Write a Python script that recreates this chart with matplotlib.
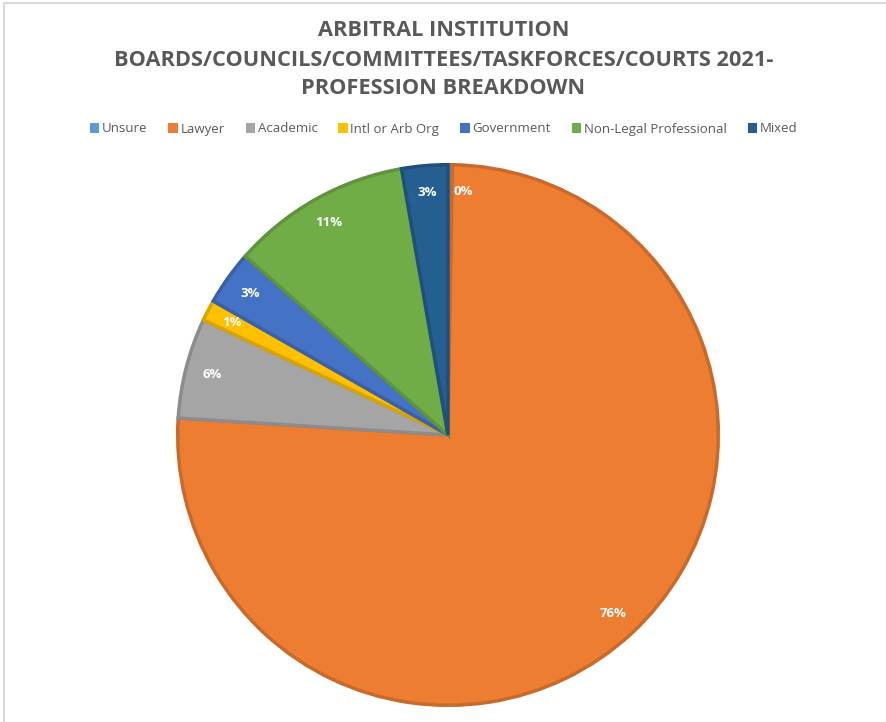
import matplotlib.pyplot as plt
from matplotlib.patches import Rectangle
import matplotlib.colors as mcolors

# Profession breakdown of institution board members (head counts)
professions = ["Unsure", "Lawyer", "Academic", "Intl or Arb Org",
               "Government", "Non-Legal Professional", "Mixed"]
counts = [1, 303, 24, 5, 13, 43, 11]
colours = ["#5B9BD5", "#ED7D31", "#A5A5A5", "#FFC000",
           "#4472C4", "#70AD47", "#255E91"]

title = ("ARBITRAL INSTITUTION\n"
         "BOARDS/COUNCILS/COMMITTEES/TASKFORCES/COURTS 2021-\n"
         "PROFESSION BREAKDOWN")

W, H = 887, 722
fig = plt.figure(figsize=(W / 100, H / 100), dpi=100)
fig.patch.set_facecolor("white")

# chart frame (top and left edges only show)
fig.add_artist(plt.Line2D([4.5 / W, 4.5 / W], [0, (H - 2.5) / H], color="#D9D9D9",
                          lw=1.5, transform=fig.transFigure))
fig.add_artist(plt.Line2D([4.5 / W, 1], [(H - 2.5) / H, (H - 2.5) / H], color="#D9D9D9",
                          lw=1.5, transform=fig.transFigure))

cx, cy, R = 448, 435, 273
ax = fig.add_axes([(cx - R) / W, (H - cy - R) / H, 2 * R / W, 2 * R / H])


def darker(c, f=0.85):
    r, g, b = mcolors.to_rgb(c)
    return (r * f, g * f, b * f)


wedges, texts, autotexts = ax.pie(
    counts, colors=colours, startangle=90, counterclock=False,
    autopct="%.0f%%", pctdistance=0.9, radius=1.0,
    wedgeprops=dict(linewidth=2.5))
for w, c in zip(wedges, colours):
    w.set_edgecolor(darker(c))
for t in autotexts:
    t.set_color("white")
    t.set_fontweight("bold")
    t.set_fontsize(9.5)
    t.set_family("Open Sans")
# keep the tiny slice's label clear of its neighbour
x, y = autotexts[0].get_position()
autotexts[0].set_position((x + 0.05, y))
ax.set_xlim(-1.01, 1.01)
ax.set_ylim(-1.01, 1.01)
ax.set_aspect("equal")
ax.axis("off")

fig.text(0.5, (H - 60) / H, title, ha="center", va="center", fontsize=15.7,
         fontweight="bold", color="#595959", family="Open Sans", linespacing=1.5)

handles = [Rectangle((0, 0), 1, 1, facecolor=c) for c in colours]
fig.legend(handles, professions, loc="center", bbox_to_anchor=(0.5, (H - 129) / H),
           ncol=7, frameon=False, handlelength=0.7, handleheight=0.7,
           handletextpad=0.2, columnspacing=1.6,
           labelcolor="#595959", prop={"family": "Open Sans", "size": 9.5})

fig.savefig("out.png", dpi=100, facecolor="white")
